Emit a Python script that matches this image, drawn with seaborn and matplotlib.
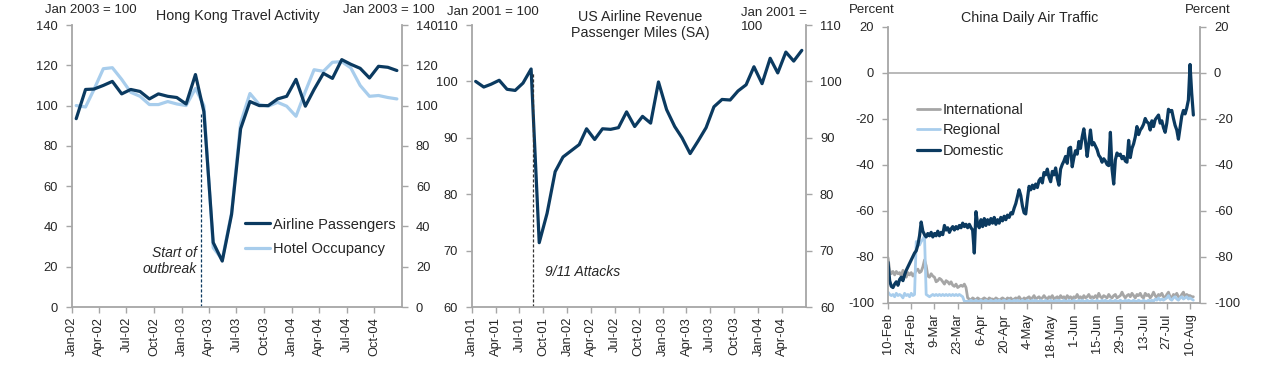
import pandas as pd
import numpy as np
import matplotlib
matplotlib.use('Agg')
import matplotlib.pyplot as plt
import matplotlib.dates as mdates
import matplotlib.ticker as mticker
import seaborn as sns

# Hong Kong travel activity, monthly, Jan 2003 = 100
hk_start = '2002-01-01'
airline_passengers = [93.5, 108.0, 108.2, 110.0, 112.0, 105.8, 108.0, 107.0, 103.3, 105.8,
                      104.6, 104.0, 100.8, 115.4, 97.0, 32.0, 22.8, 46.0, 88.5, 102.0,
                      100.0, 100.0, 103.3, 104.6, 113.0, 99.7, 108.0, 116.0, 113.5, 122.8,
                      120.5, 118.5, 113.7, 119.5, 119.0, 117.4]
hotel_occupancy = [100.0, 99.3, 108.0, 118.3, 118.8, 113.0, 106.6, 104.6, 100.5, 100.5,
                   102.0, 100.8, 100.0, 108.5, 100.0, 29.4, 23.6, 46.8, 91.4, 106.0,
                   100.5, 99.7, 101.6, 99.7, 94.7, 107.0, 117.8, 117.0, 121.5, 121.8,
                   118.7, 110.0, 104.6, 105.0, 104.0, 103.3]

# US airline revenue passenger miles (SA), monthly, Jan 2001 = 100
us_start = '2001-01-01'
us_rpm = [100.0, 99.0, 99.5, 100.2, 98.6, 98.4, 99.7, 102.2, 71.4, 76.6,
          84.0, 86.6, 87.7, 88.8, 91.6, 89.7, 91.6, 91.5, 91.8, 94.6,
          92.0, 93.8, 92.6, 99.9, 95.0, 92.0, 90.0, 87.2, 89.4, 91.8,
          95.5, 96.8, 96.7, 98.3, 99.4, 102.6, 99.6, 104.1, 101.5, 105.2,
          103.6, 105.5]

# China daily air traffic, percent, daily from 10-Feb
cn_start = '2020-02-10'
international = [
    -80.5, -86.0, -87.5, -86.5, -88.0, -86.5, -87.5,
    -87.0, -88.5, -86.0, -87.5, -89.0, -87.0, -88.0,
    -87.0, -88.5, -87.5, -86.0, -85.5, -87.0, -86.5,
    -84.5, -81.5, -84.0, -88.5, -89.0, -87.5, -88.5,
    -89.0, -91.0, -90.5, -89.5, -90.0, -91.0, -92.0,
    -90.5, -91.0, -92.0, -91.0, -92.5, -93.0, -92.0,
    -93.5, -93.0, -92.5, -93.0, -92.0, -93.5, -98.0,
    -98.5, -99.0, -98.0, -98.5, -99.0, -98.0, -98.5,
    -99.0, -98.5, -98.0, -98.5, -99.0, -98.0, -98.5,
    -98.5, -99.0, -98.0, -98.5, -99.0, -98.5, -98.0,
    -98.5, -99.0, -98.0, -98.5, -98.0, -99.0, -98.5,
    -98.0, -98.5, -97.5, -98.5, -99.0, -98.0, -98.5,
    -98.0, -97.5, -98.5, -98.0, -97.0, -98.5, -98.0,
    -97.5, -98.5, -98.0, -97.0, -98.0, -98.5, -97.5,
    -98.0, -97.0, -98.5, -98.0, -97.5, -98.5, -97.0,
    -98.0, -97.5, -98.5, -97.0, -98.0, -97.5, -98.5,
    -97.5, -98.0, -96.5, -98.0, -97.5, -98.5, -97.0,
    -98.0, -97.5, -96.5, -98.0, -97.5, -98.0, -97.0,
    -98.0, -96.0, -97.5, -98.0, -97.0, -97.5, -98.0,
    -96.5, -97.5, -98.0, -97.0, -96.5, -98.0, -97.5,
    -97.0, -95.5, -97.0, -98.0, -97.0, -96.5, -97.5,
    -96.0, -97.0, -98.0, -96.5, -97.0, -96.0, -97.5,
    -98.0, -96.0, -97.0, -96.5, -98.0, -97.0, -95.5,
    -97.0, -98.0, -96.5, -97.0, -96.0, -97.5, -98.0,
    -96.5, -95.5, -97.5, -98.0, -96.5, -97.0, -96.0,
    -97.5, -98.0, -96.5, -95.5, -97.5, -96.5, -97.0,
    -97.0, -97.5, -97.5]
regional = [
    -95.5, -96.5, -97.0, -96.5, -97.5, -96.0, -97.0,
    -96.5, -97.0, -98.0, -96.0, -97.0, -96.5, -97.5,
    -96.0, -97.0, -96.5, -73.5, -74.5, -75.0, -73.5,
    -72.5, -71.0, -96.5, -97.0, -97.5, -97.0, -96.5,
    -97.0, -96.5, -97.0, -96.5, -97.0, -96.5, -97.0,
    -96.5, -97.0, -96.5, -97.0, -96.5, -97.0, -96.5,
    -97.0, -96.5, -97.0, -97.5, -99.5, -99.5, -99.5,
    -99.5, -99.0, -99.5, -99.5, -99.0, -99.5, -99.5,
    -99.0, -99.5, -99.5, -99.0, -99.5, -99.5, -99.0,
    -99.5, -99.5, -99.0, -99.5, -99.0, -99.5, -99.5,
    -99.0, -99.5, -99.5, -99.0, -99.5, -99.5, -99.0,
    -99.5, -99.0, -99.5, -99.5, -99.0, -99.5, -99.5,
    -99.0, -99.5, -99.5, -99.0, -99.5, -99.0, -99.5,
    -99.5, -99.0, -99.5, -99.5, -99.0, -99.5, -99.5,
    -99.0, -99.5, -99.5, -99.0, -99.5, -99.0, -99.5,
    -99.5, -99.0, -99.5, -99.5, -99.0, -99.5, -99.5,
    -99.0, -99.5, -99.5, -99.0, -99.5, -99.0, -99.5,
    -99.5, -99.0, -99.5, -99.5, -99.0, -99.5, -99.5,
    -99.0, -99.5, -99.5, -99.0, -99.5, -99.0, -99.5,
    -99.5, -99.0, -99.5, -99.5, -99.0, -99.5, -99.5,
    -99.0, -99.5, -99.5, -99.0, -99.5, -99.0, -99.5,
    -99.5, -99.0, -99.5, -99.5, -99.0, -99.5, -99.5,
    -99.0, -99.5, -99.5, -99.0, -99.5, -99.0, -99.5,
    -98.5, -99.0, -98.0, -99.0, -98.5, -99.0, -98.5,
    -98.0, -97.0, -98.5, -99.0, -98.0, -97.5, -98.5,
    -99.0, -98.0, -97.5, -98.5, -98.0, -97.5, -98.5,
    -98.0, -98.5, -99.0]
domestic = [
    -82.5, -90.5, -93.0, -93.5, -92.0, -91.0, -92.5,
    -90.0, -89.0, -90.5, -88.0, -86.0, -84.5, -83.0,
    -81.5, -80.0, -78.5, -77.5, -75.0, -71.0, -65.0,
    -69.0, -70.5, -71.5, -70.0, -71.0, -69.5, -71.5,
    -70.0, -71.0, -69.0, -71.0, -69.5, -70.5, -66.5,
    -68.5, -67.5, -69.5, -68.0, -67.0, -68.5, -67.0,
    -68.0, -66.5, -67.5, -65.5, -67.0, -66.0, -67.5,
    -66.0, -67.5, -68.5, -78.5, -60.5, -66.0, -67.5,
    -64.0, -67.0, -63.5, -66.5, -64.0, -66.0, -63.5,
    -65.5, -63.0, -66.0, -64.0, -65.5, -63.0, -64.5,
    -62.5, -64.0, -62.0, -63.0, -61.0, -61.5, -59.0,
    -57.0, -54.0, -51.0, -53.5, -58.0, -61.0, -61.5,
    -55.0, -49.5, -51.0, -49.0, -50.5, -48.5, -50.0,
    -47.0, -46.0, -48.0, -43.5, -44.5, -42.0, -45.5,
    -47.5, -43.0, -44.5, -41.5, -46.0, -49.0, -42.0,
    -40.0, -38.5, -36.5, -39.5, -33.0, -32.5, -41.0,
    -37.0, -34.0, -35.5, -30.0, -33.0, -28.0, -24.5,
    -30.0, -36.5, -31.0, -25.0, -31.5, -30.5, -32.0,
    -33.5, -36.0, -37.0, -39.0, -37.5, -38.5, -40.0,
    -40.5, -26.0, -42.0, -48.5, -38.0, -35.0, -36.0,
    -35.5, -37.5, -36.5, -38.5, -39.0, -29.5, -37.0,
    -33.0, -31.0, -28.0, -23.5, -27.0, -25.0, -24.0,
    -22.5, -20.0, -21.5, -22.0, -25.0, -21.0, -23.5,
    -20.5, -19.5, -18.5, -22.0, -21.0, -24.0, -26.0,
    -22.0, -16.0, -17.0, -16.5, -20.0, -23.0, -25.0,
    -29.0, -24.0, -19.0, -16.5, -18.0, -15.5, -12.0,
    3.5, -9.0, -18.5]

DARK = '#0b3a60'
LIGHT = '#a8cdec'
GREY = '#a6a6a6'
TXT = '#262626'
SPINE = '#a6a6a6'

sns.set_theme(style='white')
plt.rcParams['font.family'] = ['Liberation Sans', 'DejaVu Sans']
plt.rcParams['axes.unicode_minus'] = False

W, H = 1280, 365
fig = plt.figure(figsize=(W / 100, H / 100), dpi=100)


def px_axes(l, r, t, b):
    return fig.add_axes([l / W, 1 - b / H, (r - l) / W, (b - t) / H])


def ftext(x, y, s, **kw):
    kw.setdefault('fontsize', 9.5)
    fig.text(x / W, 1 - y / H, s, color=TXT, **kw)


def style(ax, ylim, yticks, xpad=3):
    ax.set_ylim(*ylim)
    ax.set_yticks(yticks)
    ax.set_xlabel('')
    ax.set_ylabel('')
    for s in ['top', 'right']:
        ax.spines[s].set_visible(False)
    for s in ['left', 'bottom']:
        ax.spines[s].set_color(SPINE)
        ax.spines[s].set_linewidth(1.3)
    ax.tick_params(axis='both', direction='out', length=4, width=1, color=SPINE,
                   labelsize=9.3, labelcolor=TXT, left=True, bottom=True)
    ax.tick_params(axis='y', pad=6)
    ax.tick_params(axis='x', pad=xpad, labelrotation=90)
    tw = ax.twinx()
    tw.set_ylim(*ylim)
    tw.set_yticks(yticks)
    for s in ['top', 'left', 'bottom']:
        tw.spines[s].set_visible(False)
    tw.spines['right'].set_color(SPINE)
    tw.spines['right'].set_linewidth(1.3)
    tw.tick_params(axis='y', direction='out', length=4, width=1, color=SPINE,
                   labelsize=9.3, labelcolor=TXT, right=True, pad=6)
    tw.grid(False)
    return tw


# ---- Panel 1: Hong Kong ----
ax1 = px_axes(72, 402, 25, 307)
hk_dates = pd.date_range(hk_start, periods=len(airline_passengers), freq='MS') + pd.Timedelta(days=14)
sns.lineplot(x=hk_dates, y=hotel_occupancy, ax=ax1, color=LIGHT, lw=2.3, label='Hotel Occupancy')
sns.lineplot(x=hk_dates, y=airline_passengers, ax=ax1, color=DARK, lw=2.3, label='Airline Passengers')
ax1.set_xlim(pd.Timestamp('2002-01-01'), pd.Timestamp('2005-01-01'))
ax1.set_xticks(pd.date_range('2002-01-01', '2004-10-01', freq='QS'))
ax1.xaxis.set_major_formatter(mdates.DateFormatter('%b-%y'))
ax1.vlines(pd.Timestamp('2003-03-07'), 0, 96, colors=DARK, linestyles=(0, (2.5, 1.5)), lw=0.9)
style(ax1, (0, 140), range(0, 141, 20))
h, l = ax1.get_legend_handles_labels()
ax1.legend(h[::-1], l[::-1], loc='center left', bbox_to_anchor=(245 / W, 1 - 237 / H),
           bbox_transform=fig.transFigure, frameon=False, fontsize=10.5, handlelength=1.7,
           handletextpad=0.2, labelspacing=0.75, borderpad=0, borderaxespad=0)

ftext(45, 10, 'Jan 2003 = 100', ha='left', va='center')
ftext(238, 16, 'Hong Kong Travel Activity', ha='center', va='center', fontsize=10.3)
ftext(343, 10, 'Jan 2003 = 100', ha='left', va='center')
ftext(197, 261, 'Start of\noutbreak', ha='right', va='center', style='italic',
      fontsize=10, linespacing=1.2)

# ---- Panel 2: US airlines ----
ax2 = px_axes(472, 806, 25, 307)
us_dates = pd.date_range(us_start, periods=len(us_rpm), freq='MS') + pd.Timedelta(days=14)
sns.lineplot(x=us_dates, y=us_rpm, ax=ax2, color=DARK, lw=2.3)
ax2.set_xlim(pd.Timestamp('2001-01-01'), pd.Timestamp('2004-07-01'))
ax2.set_xticks(pd.date_range('2001-01-01', '2004-04-01', freq='QS'))
ax2.xaxis.set_major_formatter(mdates.DateFormatter('%b-%y'))
ax2.vlines(pd.Timestamp('2001-08-23'), 60, 101.5, colors='#333333', linestyles=(0, (2.5, 1.5)), lw=0.9)
style(ax2, (60, 110), range(60, 111, 10))

ftext(447, 12, 'Jan 2001 = 100', ha='left', va='center')
ftext(640, 25, 'US Airline Revenue\nPassenger Miles (SA)', ha='center', va='center',
      fontsize=10.3, linespacing=1.25)
ftext(741, 20, 'Jan 2001 =\n100', ha='left', va='center', linespacing=1.15)
ftext(545, 272, '9/11 Attacks', ha='left', va='center', style='italic', fontsize=10)

# ---- Panel 3: China ----
ax3 = px_axes(888, 1200, 26.5, 302.5)
cn_dates = pd.date_range(cn_start, periods=len(domestic), freq='D')
ax3.axhline(0, color=GREY, lw=1.1)
sns.lineplot(x=cn_dates, y=international, ax=ax3, color=GREY, lw=2.0, label='International')
sns.lineplot(x=cn_dates, y=regional, ax=ax3, color=LIGHT, lw=2.0, label='Regional')
sns.lineplot(x=cn_dates, y=domestic, ax=ax3, color=DARK, lw=2.3, label='Domestic')
ax3.set_xlim(pd.Timestamp('2020-02-10'), pd.Timestamp('2020-08-16'))
ax3.set_xticks(pd.date_range('2020-02-10', '2020-08-10', freq='14D'))
ax3.xaxis.set_major_formatter(mticker.FuncFormatter(
    lambda v, p: f"{mdates.num2date(v).day}-{mdates.num2date(v):%b}"))
style(ax3, (-100, 20), range(-100, 21, 20), xpad=4)
ax3.legend(loc='center left', bbox_to_anchor=(917 / W, 1 - 130.5 / H),
           bbox_transform=fig.transFigure, frameon=False, fontsize=10.5, handlelength=1.6,
           handletextpad=0.15, labelspacing=0.45, borderpad=0, borderaxespad=0)

ftext(849, 10, 'Percent', ha='left', va='center')
ftext(1030, 18, 'China Daily Air Traffic', ha='center', va='center', fontsize=10.3)
ftext(1185, 10, 'Percent', ha='left', va='center')

fig.savefig('out.png', dpi=100)
